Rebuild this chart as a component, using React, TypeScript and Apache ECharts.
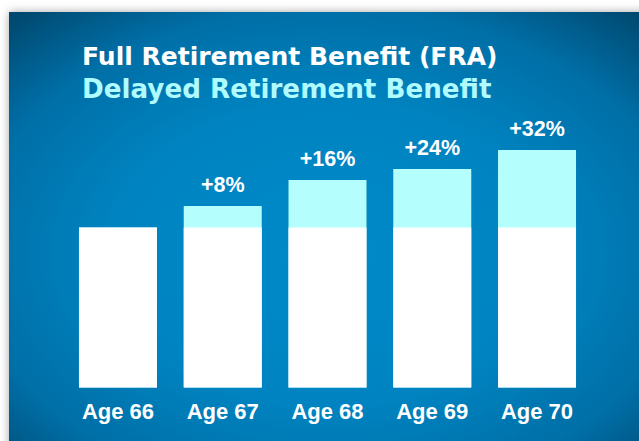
import React, { useEffect, useRef } from "react";
import * as echarts from "echarts";

const categories = ["Age 66", "Age 67", "Age 68", "Age 69", "Age 70"];
const fullBenefit = [100, 100, 100, 100, 100];
const delayedExtra = [0, 13.4, 29.7, 36.6, 48.4];
const increaseLabels = ["", "+8%", "+16%", "+24%", "+32%"];
const titleLine1 = "Full Retirement Benefit (FRA)";
const titleLine2 = "Delayed Retirement Benefit";

export default function App() {
  const ref = useRef<HTMLDivElement>(null);
  useEffect(() => {
    if (!ref.current) return;
    const chart = echarts.init(ref.current, undefined, { renderer: "svg" });
    const totals = fullBenefit.map((v, i) => v + delayedExtra[i]);
    chart.setOption({
      animation: false,
      backgroundColor: "#ffffff",
      graphic: [
        {
          type: "rect",
          z: -10,
          silent: true,
          shape: { x: 9, y: 12, width: 640, height: 440 },
          style: {
            fill: new echarts.graphic.RadialGradient(0.5, 0.55, 0.75, [
              { offset: 0, color: "#0089c8" },
              { offset: 0.45, color: "#0084c1" },
              { offset: 0.75, color: "#006ea6" },
              { offset: 1, color: "#004468" },
            ]),
            shadowBlur: 10,
            shadowColor: "rgba(0,0,0,0.35)",
          },
        },
        {
          type: "text",
          x: 82,
          y: 56.5,
          style: {
            text: titleLine1,
            fill: "#ffffff",
            font: "bold 25px 'DejaVu Sans'",
            verticalAlign: "middle",
            align: "left",
          },
        },
        {
          type: "text",
          x: 82,
          y: 89,
          style: {
            text: titleLine2,
            fill: "#b0fbff",
            font: "bold 26.2px 'DejaVu Sans'",
            verticalAlign: "middle",
            align: "left",
          },
        },
      ],
      grid: { left: 65.6, right: 49.6, top: 99.5, bottom: 53.5 },
      xAxis: {
        type: "category",
        data: categories,
        axisLine: { show: false },
        axisTick: { show: false },
        axisLabel: {
          color: "#ffffff",
          fontFamily: "'Liberation Sans', Arial, sans-serif",
          fontWeight: "bold",
          fontSize: 22,
          margin: 13,
        },
      },
      yAxis: {
        type: "value",
        min: 0,
        max: 180,
        show: false,
        splitLine: { show: false },
      },
      series: [
        {
          name: "Delayed Retirement Benefit",
          type: "bar",
          data: totals,
          barWidth: 78,
          barGap: "-100%",
          itemStyle: { color: "#b4fefe" },
          label: {
            show: true,
            position: "top",
            distance: 10,
            color: "#ffffff",
            fontFamily: "'Liberation Sans', Arial, sans-serif",
            fontWeight: "bold",
            fontSize: 21.5,
            formatter: (p: any) => increaseLabels[p.dataIndex],
          },
        },
        {
          name: "Full Retirement Benefit (FRA)",
          type: "bar",
          data: fullBenefit,
          barWidth: 78,
          barGap: "-100%",
          itemStyle: { color: "#ffffff" },
        },
      ],
    });
    return () => chart.dispose();
  }, []);
  return (
    <div
      ref={ref}
      style={{ position: "fixed", left: 0, top: 0, width: 639, height: 441 }}
    />
  );
}
